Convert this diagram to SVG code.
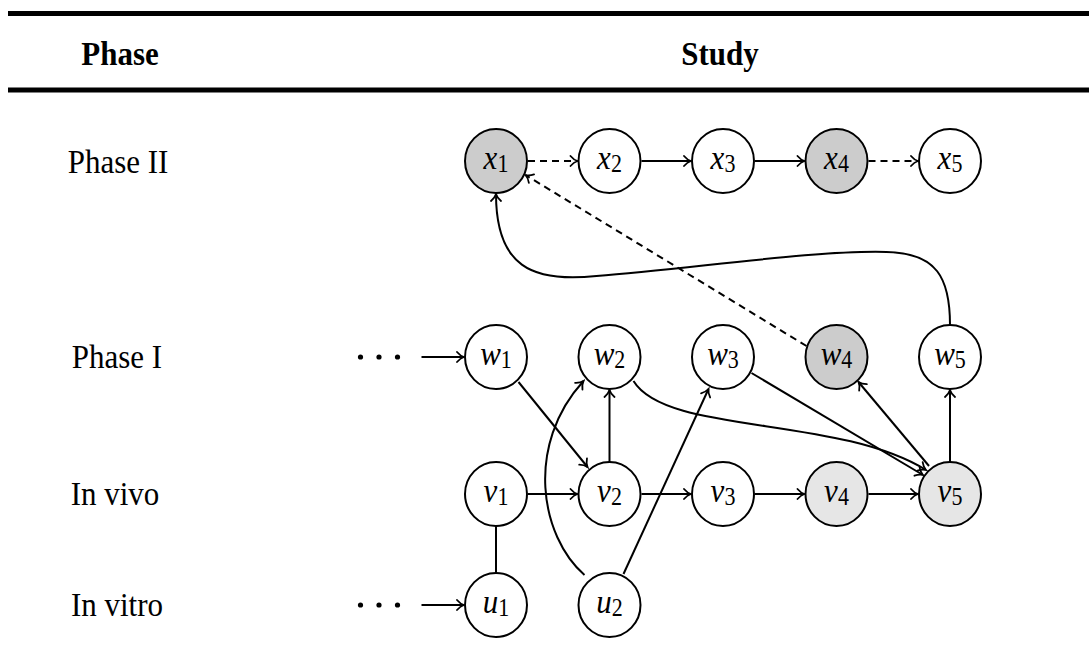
<svg xmlns="http://www.w3.org/2000/svg" width="1089" height="670" viewBox="0 0 1089 670">
<style>
.node{stroke:#000;stroke-width:2;fill:#fff}
.dark{fill:#cccccc}
.light{fill:#e6e6e6}
.edge{fill:none;stroke:#000;stroke-width:2}
.arr{marker-end:url(#arr)}
.dash{stroke-dasharray:7 5}
.lbl{font-family:"Liberation Serif","Times New Roman",serif;font-size:31px;fill:#000}
.hd{font-weight:bold}
.var{font-style:italic}
.rule{stroke:#000;fill:none}
</style>
<defs>
<marker id="arr" markerUnits="userSpaceOnUse" viewBox="-10 -7 12 14" markerWidth="12" markerHeight="14" refX="0" refY="0" orient="auto">
<path d="M -7 -5 C -4.5 -2 -2 -0.6 0 0 C -2 0.6 -4.5 2 -7 5" fill="none" stroke="#000" stroke-width="1.8" stroke-linecap="round"/>
</marker>
</defs>
<rect width="1089" height="670" fill="#fff"/>
<g id="table">
<line class="rule" x1="8" y1="13.5" x2="1089" y2="13.5" stroke-width="5"/>
<line class="rule" x1="8" y1="90" x2="1089" y2="90" stroke-width="5"/>
<text class="lbl hd" text-anchor="middle" transform="translate(120 65) scale(1 1.1)">Phase</text>
<text class="lbl hd" text-anchor="middle" transform="translate(720 65) scale(1 1.1)">Study</text>
<text class="lbl" text-anchor="middle" transform="translate(118 172.5) scale(1 1.1)">Phase II</text>
<text class="lbl" text-anchor="middle" transform="translate(117 368) scale(1 1.1)">Phase I</text>
<text class="lbl" text-anchor="middle" transform="translate(115 505) scale(1 1.1)">In vivo</text>
<text class="lbl" text-anchor="middle" transform="translate(117 616) scale(1 1.1)">In vitro</text>
</g>
<g id="connectors">
<path class="edge arr dash" d="M 528 161 L 577.5 161"/>
<path class="edge arr" d="M 641.5 161 L 691 161"/>
<path class="edge arr" d="M 755 161 L 804.5 161"/>
<path class="edge arr dash" d="M 868.5 161 L 918 161"/>
<path class="edge arr dash" d="M 806.5 346 L 525.5 175"/>
<path class="edge arr" d="M 950 325 C 950 278 937 253 886.5 252 C 816.5 250 696.5 268 596.5 276 C 531.5 283 496 266 496 194"/>
<path class="edge arr" d="M 421.5 357 L 464 357"/>
<path class="edge arr" d="M 421.5 605 L 464 605"/>
<path class="edge arr" d="M 518.5 382 L 587.5 467"/>
<path class="edge arr" d="M 609.5 462 L 609.5 390"/>
<path class="edge arr" d="M 584.5 575 C 540 536 525 445 583.5 381"/>
<path class="edge arr" d="M 623.5 574 L 708.5 389"/>
<path class="edge arr" d="M 633.5 381 C 666.5 435 836.5 415 926 470"/>
<path class="edge arr" d="M 751.5 373 L 923 475"/>
<path class="edge arr" d="M 929 466 L 858.5 382"/>
<path class="edge arr" d="M 950 462 L 950 390"/>
<path class="edge arr" d="M 528 494 L 577.5 494"/>
<path class="edge arr" d="M 641.5 494 L 691 494"/>
<path class="edge arr" d="M 755 494 L 804.5 494"/>
<path class="edge arr" d="M 868.5 494 L 918 494"/>
<path class="edge" d="M 496 526 L 496 573"/>
<circle cx="360.5" cy="357" r="2.6"/>
<circle cx="379" cy="357" r="2.6"/>
<circle cx="397.5" cy="357" r="2.6"/>
<circle cx="360.5" cy="605" r="2.6"/>
<circle cx="379" cy="605" r="2.6"/>
<circle cx="397.5" cy="605" r="2.6"/>
</g>
<g id="x1"><ellipse class="node dark" cx="496" cy="161" rx="31" ry="32"/><text class="lbl" text-anchor="middle" transform="translate(496 168.6) scale(1 1.1)"><tspan class="var">x</tspan><tspan font-size="22" dy="3">1</tspan></text></g>
<g id="x2"><ellipse class="node" cx="609.5" cy="161" rx="31" ry="32"/><text class="lbl" text-anchor="middle" transform="translate(609.5 168.6) scale(1 1.1)"><tspan class="var">x</tspan><tspan font-size="22" dy="3">2</tspan></text></g>
<g id="x3"><ellipse class="node" cx="723" cy="161" rx="31" ry="32"/><text class="lbl" text-anchor="middle" transform="translate(723 168.6) scale(1 1.1)"><tspan class="var">x</tspan><tspan font-size="22" dy="3">3</tspan></text></g>
<g id="x4"><ellipse class="node dark" cx="836.5" cy="161" rx="31" ry="32"/><text class="lbl" text-anchor="middle" transform="translate(836.5 168.6) scale(1 1.1)"><tspan class="var">x</tspan><tspan font-size="22" dy="3">4</tspan></text></g>
<g id="x5"><ellipse class="node" cx="950" cy="161" rx="31" ry="32"/><text class="lbl" text-anchor="middle" transform="translate(950 168.6) scale(1 1.1)"><tspan class="var">x</tspan><tspan font-size="22" dy="3">5</tspan></text></g>
<g id="w1"><ellipse class="node" cx="496" cy="357" rx="31" ry="32"/><text class="lbl" text-anchor="middle" transform="translate(496 364.6) scale(1 1.1)"><tspan class="var">w</tspan><tspan font-size="22" dy="3">1</tspan></text></g>
<g id="w2"><ellipse class="node" cx="609.5" cy="357" rx="31" ry="32"/><text class="lbl" text-anchor="middle" transform="translate(609.5 364.6) scale(1 1.1)"><tspan class="var">w</tspan><tspan font-size="22" dy="3">2</tspan></text></g>
<g id="w3"><ellipse class="node" cx="723" cy="357" rx="31" ry="32"/><text class="lbl" text-anchor="middle" transform="translate(723 364.6) scale(1 1.1)"><tspan class="var">w</tspan><tspan font-size="22" dy="3">3</tspan></text></g>
<g id="w4"><ellipse class="node dark" cx="836.5" cy="357" rx="31" ry="32"/><text class="lbl" text-anchor="middle" transform="translate(836.5 364.6) scale(1 1.1)"><tspan class="var">w</tspan><tspan font-size="22" dy="3">4</tspan></text></g>
<g id="w5"><ellipse class="node" cx="950" cy="357" rx="31" ry="32"/><text class="lbl" text-anchor="middle" transform="translate(950 364.6) scale(1 1.1)"><tspan class="var">w</tspan><tspan font-size="22" dy="3">5</tspan></text></g>
<g id="v1"><ellipse class="node" cx="496" cy="494" rx="31" ry="32"/><text class="lbl" text-anchor="middle" transform="translate(496 501.6) scale(1 1.1)"><tspan class="var">v</tspan><tspan font-size="22" dy="3">1</tspan></text></g>
<g id="v2"><ellipse class="node" cx="609.5" cy="494" rx="31" ry="32"/><text class="lbl" text-anchor="middle" transform="translate(609.5 501.6) scale(1 1.1)"><tspan class="var">v</tspan><tspan font-size="22" dy="3">2</tspan></text></g>
<g id="v3"><ellipse class="node" cx="723" cy="494" rx="31" ry="32"/><text class="lbl" text-anchor="middle" transform="translate(723 501.6) scale(1 1.1)"><tspan class="var">v</tspan><tspan font-size="22" dy="3">3</tspan></text></g>
<g id="v4"><ellipse class="node light" cx="836.5" cy="494" rx="31" ry="32"/><text class="lbl" text-anchor="middle" transform="translate(836.5 501.6) scale(1 1.1)"><tspan class="var">v</tspan><tspan font-size="22" dy="3">4</tspan></text></g>
<g id="v5"><ellipse class="node light" cx="950" cy="494" rx="31" ry="32"/><text class="lbl" text-anchor="middle" transform="translate(950 501.6) scale(1 1.1)"><tspan class="var">v</tspan><tspan font-size="22" dy="3">5</tspan></text></g>
<g id="u1"><ellipse class="node" cx="496" cy="605" rx="31" ry="32"/><text class="lbl" text-anchor="middle" transform="translate(496 612.6) scale(1 1.1)"><tspan class="var">u</tspan><tspan font-size="22" dy="3">1</tspan></text></g>
<g id="u2"><ellipse class="node" cx="609.5" cy="605" rx="31" ry="32"/><text class="lbl" text-anchor="middle" transform="translate(609.5 612.6) scale(1 1.1)"><tspan class="var">u</tspan><tspan font-size="22" dy="3">2</tspan></text></g>
</svg>
